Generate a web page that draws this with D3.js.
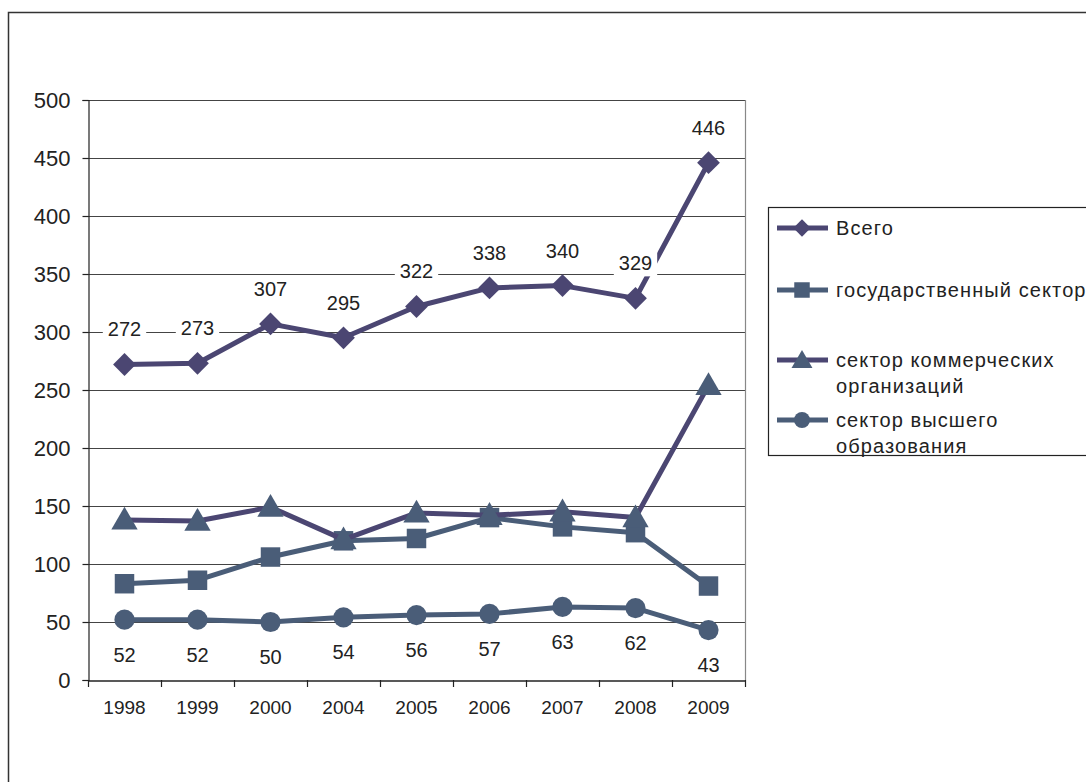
<!DOCTYPE html>
<html>
<head>
<meta charset="utf-8">
<script src="https://cdn.jsdelivr.net/npm/d3@7/dist/d3.min.js"></script>
<style>
  html, body { margin: 0; padding: 0; background: #fff; }
  svg { display: block; font-family: "Liberation Sans", Arial, sans-serif; }
</style>
</head>
<body>
<svg id="chart" width="1086" height="782"></svg>
<script>
// Years on the category axis
const years = ["1998", "1999", "2000", "2004", "2005", "2006", "2007", "2008", "2009"];

// Series values
const total      = [272, 273, 307, 295, 322, 338, 340, 329, 446];
const stateSec   = [83, 86, 106, 120, 122, 140, 132, 127, 81];
const commercial = [138, 137, 149, 121, 144, 142, 145, 140, 254];
const higherEdu  = [52, 52, 50, 54, 56, 57, 63, 62, 43];

// Y axis ticks
const yTicks = [0, 50, 100, 150, 200, 250, 300, 350, 400, 450, 500];

const svg = d3.select("#chart");

const purple = "#4b4672";
const slate  = "#4a5d78";
const ink    = "#222";

// Outer frame
svg.append("rect")
  .attr("x", 8.5).attr("y", 12.5)
  .attr("width", 1200).attr("height", 900)
  .attr("fill", "none").attr("stroke", "#333").attr("stroke-width", 1.5);

const plot = { left: 88, right: 745, top: 100, bottom: 680 };

const x = d3.scaleBand().domain(years).range([plot.left, plot.right]).paddingInner(0).paddingOuter(0);
const xc = d => x(d) + x.bandwidth() / 2;
const y = d3.scaleLinear().domain([0, 500]).range([plot.bottom, plot.top]);

// Gridlines
svg.append("g").selectAll("line")
  .data(yTicks.filter(t => t > 0))
  .join("line")
  .attr("x1", plot.left).attr("x2", plot.right)
  .attr("y1", d => y(d) + 0.5).attr("y2", d => y(d) + 0.5)
  .attr("stroke", "#444").attr("stroke-width", 1);

// Right border of the plot area
svg.append("line")
  .attr("x1", plot.right + 0.5).attr("x2", plot.right + 0.5)
  .attr("y1", plot.top).attr("y2", plot.bottom)
  .attr("stroke", "#888").attr("stroke-width", 1.2);

// Y axis
const yAxis = d3.axisLeft(y).tickValues(yTicks).tickSize(6).tickPadding(12);
const gy = svg.append("g").attr("transform", `translate(${plot.left + 0.5},0)`).call(yAxis);
gy.select(".domain").attr("stroke", "#222").attr("stroke-width", 1.2);
gy.selectAll(".tick line").attr("stroke", "#222").attr("stroke-width", 1.2);
gy.selectAll(".tick text").attr("font-size", 22).attr("fill", ink)
  .attr("font-family", "'Liberation Sans', Arial, sans-serif");

// X axis: labels centered in bands, tick marks on band edges
const xAxis = d3.axisBottom(x).tickSize(0).tickPadding(20);
const gx = svg.append("g").attr("transform", `translate(0,${plot.bottom + 0.5})`).call(xAxis);
gx.select(".domain").attr("stroke", "#222").attr("stroke-width", 1.5);
gx.selectAll(".tick text").attr("font-size", 19).attr("fill", ink)
  .attr("font-family", "'Liberation Sans', Arial, sans-serif");
const edges = years.map(d => x(d)).concat([x(years[years.length - 1]) + x.bandwidth()]);
svg.append("g").selectAll("line")
  .data(edges)
  .join("line")
  .attr("x1", d => d + 0.5).attr("x2", d => d + 0.5)
  .attr("y1", plot.bottom).attr("y2", plot.bottom + 7)
  .attr("stroke", "#222").attr("stroke-width", 1.2);

// Marker shapes
const sym = {
  diamond:  d3.symbol().type(d3.symbolSquare).size(260),
  square:   d3.symbol().type(d3.symbolSquare).size(380),
  triangle: d3.symbol().type(d3.symbolTriangle).size(300),
  circle:   d3.symbol().type(d3.symbolCircle).size(320)
};

const series = [
  { name: "сектор высшего образования", values: higherEdu, line: slate, fill: slate, marker: "circle" },
  { name: "государственный сектор", values: stateSec, line: slate, fill: slate, marker: "square" },
  { name: "сектор коммерческих организаций", values: commercial, line: purple, fill: slate, marker: "triangle" },
  { name: "Всего", values: total, line: purple, fill: purple, marker: "diamond" }
];

const lineGen = d3.line().x((v, i) => xc(years[i])).y(v => y(v));

function markerTransform(kind, cx, cy) {
  if (kind === "diamond") return `translate(${cx},${cy}) rotate(45)`;
  if (kind === "triangle") return `translate(${cx},${cy + 2})`;
  return `translate(${cx},${cy})`;
}

series.forEach(s => {
  const g = svg.append("g");
  g.append("path")
    .attr("d", lineGen(s.values))
    .attr("fill", "none").attr("stroke", s.line)
    .attr("stroke-width", 5).attr("stroke-linejoin", "round");
  g.selectAll("path.m")
    .data(s.values)
    .join("path").attr("class", "m")
    .attr("d", sym[s.marker]())
    .attr("transform", (v, i) => markerTransform(s.marker, xc(years[i]), y(v)))
    .attr("fill", s.fill);
});

// Value labels with white backing
function valueLabels(values, offset) {
  const g = svg.append("g");
  values.forEach((v, i) => {
    const cx = xc(years[i]);
    const cy = y(v) + offset;
    const t = g.append("text")
      .attr("x", cx).attr("y", cy)
      .attr("text-anchor", "middle").attr("dominant-baseline", "central")
      .attr("font-size", 20).attr("fill", ink)
      .text(v);
    const bb = t.node().getBBox();
    g.insert("rect", "text")
      .attr("x", bb.x - 5).attr("y", bb.y - 2)
      .attr("width", bb.width + 10).attr("height", bb.height + 4)
      .attr("fill", "#fff");
  });
}
valueLabels(total, -35);
valueLabels(higherEdu, 35);

// Legend
const legend = svg.append("g");
legend.append("rect")
  .attr("x", 768.5).attr("y", 207.5)
  .attr("width", 400).attr("height", 248)
  .attr("fill", "#fff").attr("stroke", "#222").attr("stroke-width", 1.2);

const legendItems = [
  { lines: ["Всего"], y: 228, line: purple, fill: purple, marker: "diamond", size: 150 },
  { lines: ["государственный сектор"], y: 290, line: slate, fill: slate, marker: "square", size: 240 },
  { lines: ["сектор коммерческих", "организаций"], y: 360, line: purple, fill: slate, marker: "triangle", size: 190 },
  { lines: ["сектор высшего", "образования"], y: 420, line: slate, fill: slate, marker: "circle", size: 200 }
];

legendItems.forEach(it => {
  legend.append("line")
    .attr("x1", 777).attr("x2", 828)
    .attr("y1", it.y).attr("y2", it.y)
    .attr("stroke", it.line).attr("stroke-width", 5);
  const shape = d3.symbol().type(
    it.marker === "circle" ? d3.symbolCircle :
    it.marker === "triangle" ? d3.symbolTriangle : d3.symbolSquare
  ).size(it.size);
  legend.append("path")
    .attr("d", shape())
    .attr("transform", markerTransform(it.marker, 802, it.y))
    .attr("fill", it.fill);
  it.lines.forEach((ln, k) => {
    legend.append("text")
      .attr("x", 836).attr("y", it.y + k * 26)
      .attr("dominant-baseline", "central")
      .attr("font-size", 20).attr("letter-spacing", 1.1).attr("fill", ink)
      .text(ln);
  });
});
</script>
</body>
</html>
